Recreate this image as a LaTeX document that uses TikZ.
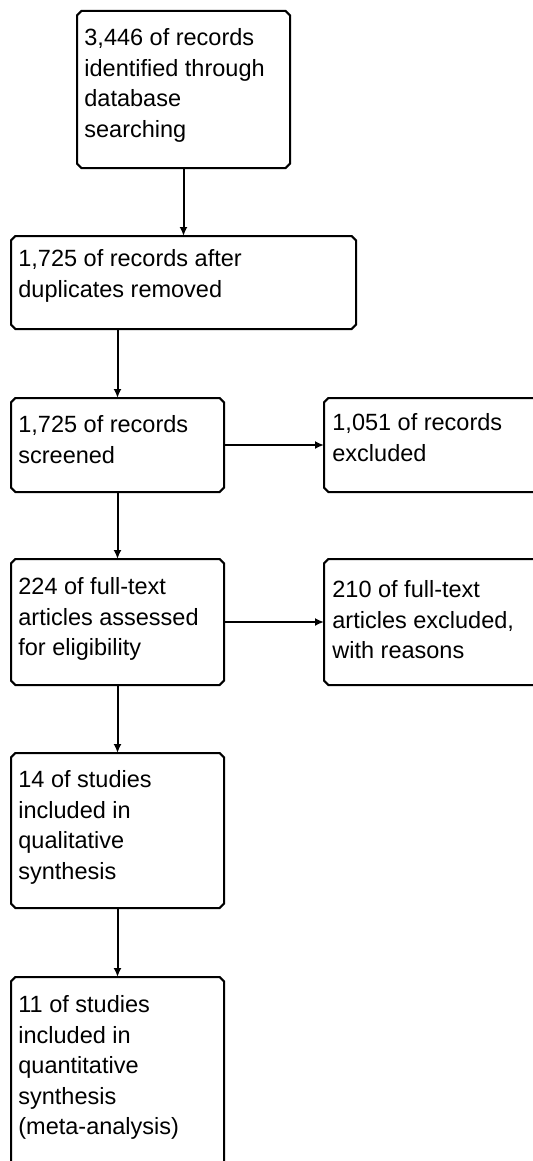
\documentclass[tikz,border=0pt]{standalone}
\usepackage{fontspec}
\setmainfont{Liberation Sans}
\usetikzlibrary{arrows.meta}
\newcommand\chamfbox[1]{%
  \draw[line width=1pt, line join=miter]
    ([xshift=2.2pt]#1.north west) -- ([xshift=-2.2pt]#1.north east)
    -- ([yshift=-2.2pt]#1.north east) -- ([yshift=2.2pt]#1.south east)
    -- ([xshift=-2.2pt]#1.south east) -- ([xshift=2.2pt]#1.south west)
    -- ([yshift=2.2pt]#1.south west) -- ([yshift=-2.2pt]#1.north west) -- cycle;}
\begin{document}
\begin{tikzpicture}[x=0.5pt,y=-0.5pt,
  flowbox/.style={draw=none, rectangle, inner sep=0pt, outer sep=0pt},
  txt/.style={anchor=north west, inner sep=0pt, align=left,
    font=\fontsize{11.75pt}{15.3pt}\selectfont},
  arr/.style={line width=1pt, -{Latex[length=4.5pt,width=4pt]}}]
\useasboundingbox (0,0) rectangle (533,1161);
\fill[white] (0,0) rectangle (533,1161);
\clip (0,0) rectangle (533,1161);
% boxes
\node[flowbox, minimum width=106.5pt, minimum height=78.5pt] (b1) at (183.5,89.5) {};
\node[flowbox, minimum width=172.5pt, minimum height=46.5pt] (b2) at (183.5,282.5) {};
\node[flowbox, minimum width=106.5pt, minimum height=47pt] (b3) at (117.5,445) {};
\node[flowbox, minimum width=118pt, minimum height=47pt] (b4) at (442,445) {};
\node[flowbox, minimum width=106.5pt, minimum height=63pt] (b5) at (117.5,622) {};
\node[flowbox, minimum width=118pt, minimum height=63pt] (b6) at (442,622) {};
\node[flowbox, minimum width=106.5pt, minimum height=77.5pt] (b7) at (117.5,830.5) {};
\node[flowbox, minimum width=106.5pt, minimum height=121.5pt] (b8) at (117.5,1098.5) {};
\chamfbox{b1}\chamfbox{b2}\chamfbox{b3}\chamfbox{b4}
\chamfbox{b5}\chamfbox{b6}\chamfbox{b7}\chamfbox{b8}
% texts (top = first baseline - strut height)
\node[txt] (t1) at (84,23.6) {\strut 3,446 of records\\identified through\\database\\searching};
\node[txt] (t2) at (18,244.6) {\strut 1,725 of records after\\duplicates removed};
\node[txt] (t3) at (18,410.6) {\strut 1,725 of records\\screened};
\node[txt] (t4) at (332,408.6) {\strut 1,051 of records\\excluded};
\node[txt] (t5) at (18,572.6) {\strut 224 of full-text\\articles assessed\\for eligibility};
\node[txt] (t6) at (332,575.6) {\strut 210 of full-text\\articles excluded,\\with reasons};
\node[txt] (t7) at (18,765.6) {\strut 14 of studies\\included in\\qualitative\\synthesis};
\node[txt] (t8) at (18,990.6) {\strut 11 of studies\\included in\\quantitative\\synthesis\\(meta-analysis)};
% connectors
\draw[arr] (b1.south) -- (b2.north);
\draw[arr] (b2.south -| b3.north) -- (b3.north);
\draw[arr] (b3.south) -- (b5.north);
\draw[arr] (b5.south) -- (b7.north);
\draw[arr] (b7.south) -- (b8.north);
\draw[arr] (b3.east) -- (b4.west);
\draw[arr] (b5.east) -- (b6.west);
\end{tikzpicture}
\end{document}
